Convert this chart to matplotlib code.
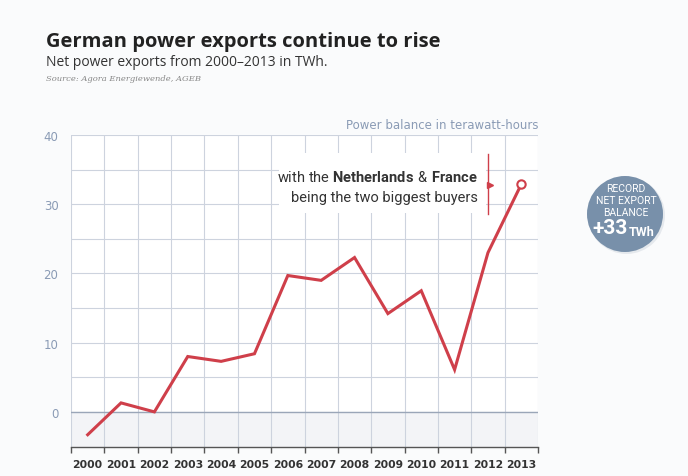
import numpy as np
import matplotlib.pyplot as plt
from matplotlib.patches import Circle, Rectangle

years = ['2000', '2001', '2002', '2003', '2004', '2005', '2006',
         '2007', '2008', '2009', '2010', '2011', '2012', '2013']
net_exports = [-3.3, 1.3, 0.0, 8.0, 7.3, 8.4, 19.7,
               19.0, 22.3, 14.2, 17.5, 6.1, 23.0, 32.9]
y_ticks = [0, 10, 20, 30, 40]

red = '#cf3f4a'
grid_col = '#cdd3de'
label_col = '#8a9bb5'
bg = '#fafbfc'

plt.rcParams['mathtext.fontset'] = 'custom'
plt.rcParams['mathtext.rm'] = 'Roboto'
plt.rcParams['mathtext.bf'] = 'Roboto:bold'

fig = plt.figure(figsize=(6.88, 4.77), dpi=100, facecolor=bg)
ax = fig.add_axes([71 / 688, 29.5 / 477, 467 / 688, 311.5 / 477])
ax.set_facecolor('white')

x = np.arange(len(years))
ax.set_xlim(-0.5, len(years) - 0.5)
ax.set_ylim(-5, 40)

# shaded negative region
ax.axhspan(-5, 0, color='#f3f4f7', zorder=0)

# grid
for v in np.arange(-0.5, len(years), 1):
    ax.axvline(v, color=grid_col, lw=0.8, zorder=1)
for v in np.arange(5, 41, 5):
    ax.axhline(v, color=grid_col, lw=0.8, zorder=1)
ax.axhline(0, color='#9aa6b8', lw=1.0, zorder=1)

ax.plot(x, net_exports, color=red, lw=2.2, zorder=3, solid_joinstyle='miter')
ax.plot(x[-1], net_exports[-1], 'o', ms=6, mfc='white', mec=red, mew=1.5, zorder=4)

for s in ['top', 'right', 'left']:
    ax.spines[s].set_visible(False)
ax.spines['bottom'].set_color('#555555')
ax.spines['bottom'].set_linewidth(1.0)

ax.set_xticks(x)
ax.set_xticklabels(years, fontsize=7.8, color='#333333', fontweight='semibold')
ax.set_xticks(np.arange(-0.5, len(years), 1), minor=True)
ax.tick_params(axis='x', which='major', length=0, pad=9)
ax.tick_params(axis='x', which='minor', length=4, color='#555555', width=1, direction='out')

ax.set_yticks(y_ticks)
ax.set_yticklabels([str(t) for t in y_ticks], fontsize=8.5, color=label_col)
ax.tick_params(axis='y', length=0, pad=9)

ax.text(1.0, 1.012, 'Power balance in terawatt-hours', transform=ax.transAxes,
        ha='right', va='bottom', fontsize=8.5, color=label_col)

# annotation box
ax.add_patch(Rectangle((5.75, 28.8), 6.2, 8.6, facecolor='white', edgecolor='none', zorder=2))
ax.plot([12.0, 12.0], [28.6, 37.2], color=red, lw=1.0, zorder=5)
ax.plot(12.07, 32.8, marker='>', color=red, ms=4, zorder=5)
ax.text(11.7, 34.0, r'with the $\bf{Netherlands}\ $&$\ \bf{France}$', ha='right', va='center',
        fontsize=10.5, color='#333333', zorder=6, family='Roboto')
ax.text(11.7, 31.1, 'being the two biggest buyers', ha='right', va='center',
        fontsize=10.5, color='#333333', zorder=6, family='Roboto')

# titles
fig.text(46 / 688, 1 - 42 / 477, 'German power exports continue to rise', fontsize=14.5,
         fontweight='bold', color='#222222', va='center', family='Open Sans')
fig.text(46 / 688, 1 - 62 / 477, 'Net power exports from 2000\u20132013 in TWh.', fontsize=10,
         color='#333333', va='center', family='Open Sans')
fig.text(46 / 688, 1 - 79 / 477, 'Source: Agora Energiewende, AGEB', fontsize=6,
         color='#888888', va='center', family='DejaVu Serif', style='italic')

# record badge
shadow = Circle((6.265, 4.77 - 2.165), 0.385, transform=fig.dpi_scale_trans,
                facecolor='#d8dde4', edgecolor='none', alpha=0.6)
circ = Circle((6.25, 4.77 - 2.15), 0.38, transform=fig.dpi_scale_trans,
              facecolor='#7890aa', edgecolor='none')
fig.patches.extend([shadow, circ])
for txt, yy in [('RECORD', 189), ('NET EXPORT', 201), ('BALANCE', 213)]:
    fig.text(626 / 688, 1 - yy / 477, txt, ha='center', va='center', fontsize=7.5,
             color='white', family='Roboto')
fig.text(628 / 688, 1 - 229 / 477, '+33', ha='right', va='center', fontsize=15,
         fontweight='bold', color='white', family='Roboto')
fig.text(629 / 688, 1 - 232 / 477, 'TWh', ha='left', va='center', fontsize=9,
         fontweight='bold', color='white', family='Roboto')

fig.savefig('out.png', dpi=100, facecolor=bg)
